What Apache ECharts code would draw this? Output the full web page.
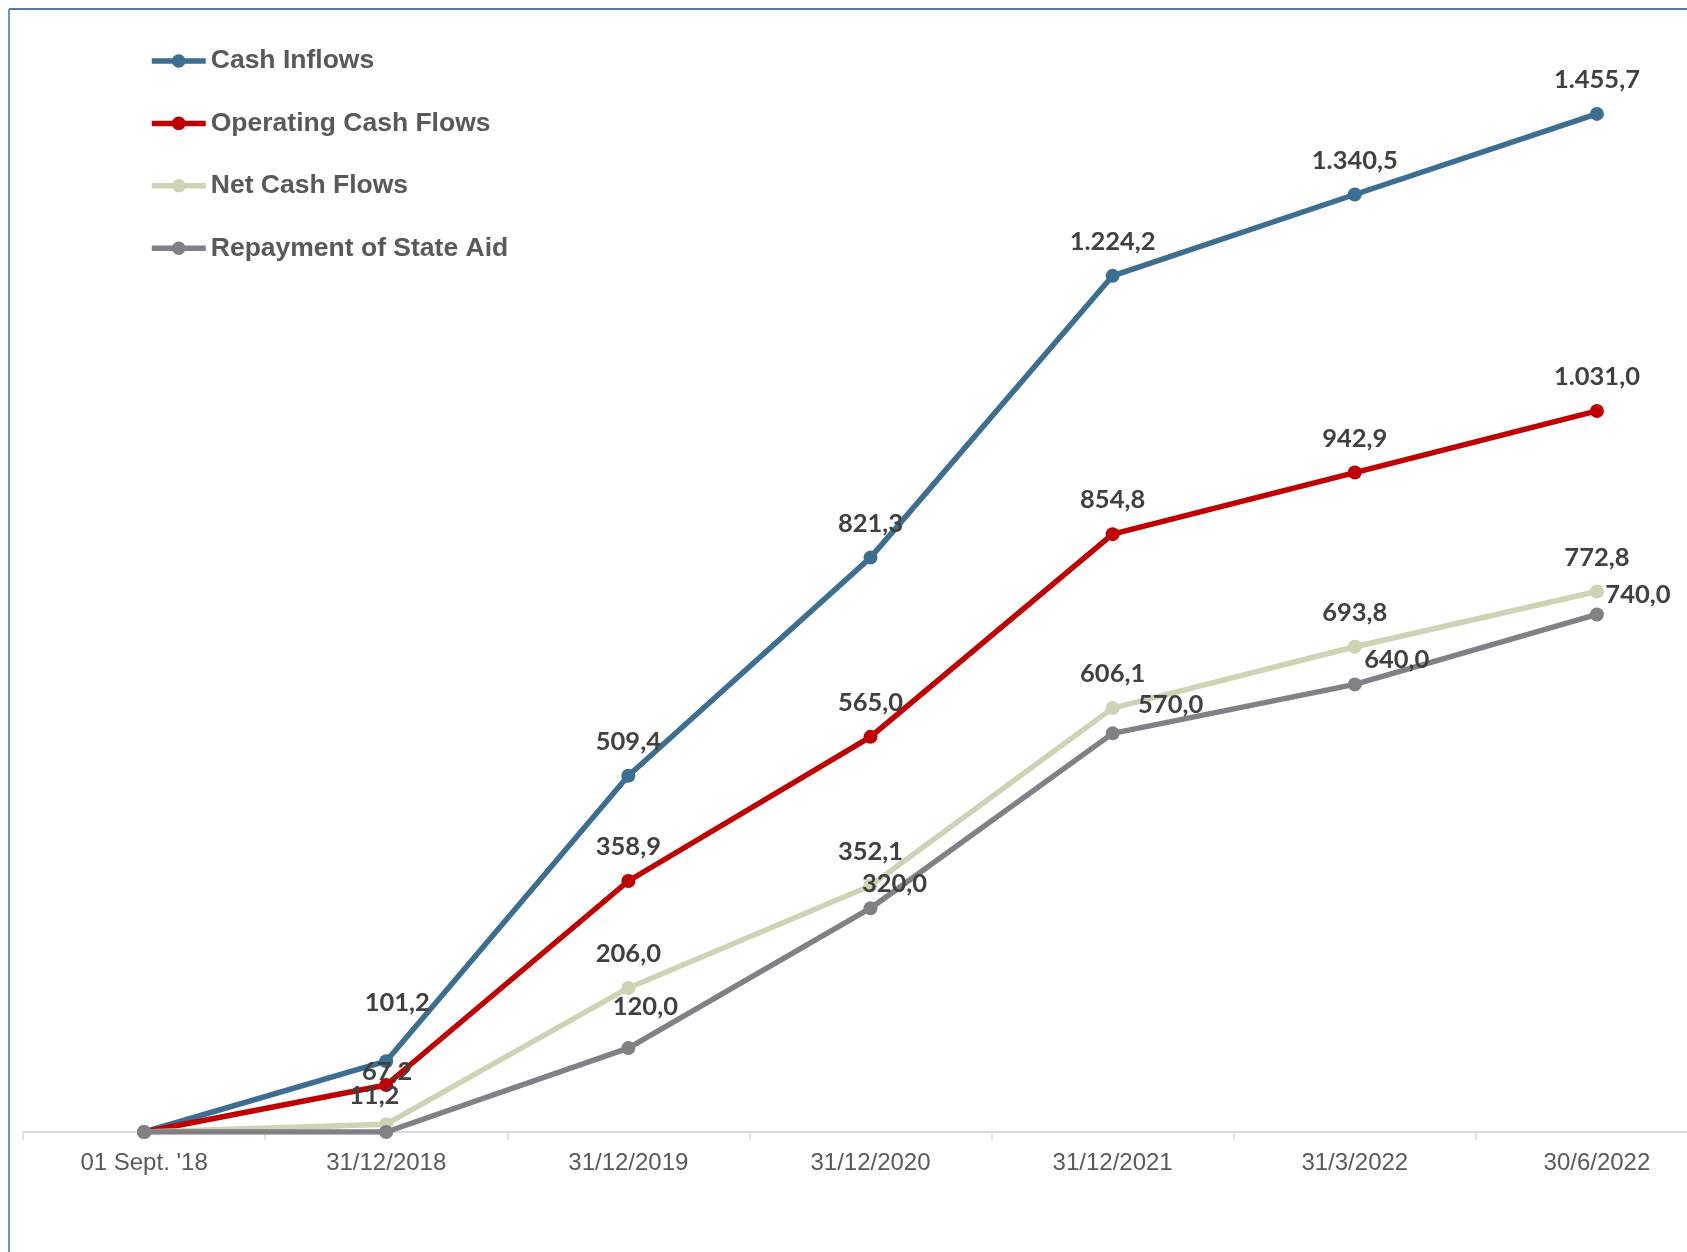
<!DOCTYPE html>
<html>
<head>
<meta charset="utf-8">
<title>Cash Flows</title>
<script src="https://cdn.jsdelivr.net/npm/echarts@6/dist/echarts.min.js"></script>
<style>
  html, body { margin: 0; padding: 0; background: #ffffff; overflow: hidden; }
  /* the plot runs past the right edge of the page; the canvas is wider than the window */
  #chart { width: 1718px; height: 1252px; }
</style>
</head>
<body>
<div id="chart"></div>
<script>
// Reporting dates on the horizontal axis
const categories = ["01 Sept. '18", "31/12/2018", "31/12/2019", "31/12/2020", "31/12/2021", "31/3/2022", "30/6/2022"];

// Cumulative amounts per series
const cashInflows = [0, 101.2, 509.4, 821.3, 1224.2, 1340.5, 1455.7];
const operatingCashFlows = [0, 67.2, 358.9, 565.0, 854.8, 942.9, 1031.0];
const netCashFlows = [0, 11.2, 206.0, 352.1, 606.1, 693.8, 772.8];
const stateAidRepayment = [0, 0, 120.0, 320.0, 570.0, 640.0, 740.0];

const seriesNames = ['Cash Inflows', 'Operating Cash Flows', 'Net Cash Flows', 'Repayment of State Aid'];
const seriesColors = ['#3b6e91', '#c00000', '#cfd2b5', '#808087'];

// Label placement (dx, dy from the marker centre), per point
const STD = [0, -34];
const labelOffsets = [
  [STD, [11, -58], STD, STD, STD, STD, STD],
  [STD, [1, -13], STD, STD, STD, STD, STD],
  [STD, [-12, -28], STD, STD, STD, STD, STD],
  [STD, STD, [17, -41], [24, -24], [58, -29], [42, -25], [41, -20]]
];

// European number format: 1.455,7
function fmt(v) {
  const parts = v.toFixed(1).split('.');
  const intPart = parts[0].replace(/\B(?=(\d{3})+(?!\d))/g, '.');
  return intPart + ',' + parts[1];
}

function buildSeries(idx, values) {
  return {
    name: seriesNames[idx],
    type: 'line',
    data: values.map((v, i) => ({
      value: v,
      label: { offset: labelOffsets[idx][i] }
    })),
    symbol: 'circle',
    symbolSize: 14,
    showSymbol: true,
    lineStyle: { width: 5.5, color: seriesColors[idx] },
    itemStyle: { color: seriesColors[idx] },
    label: {
      show: true,
      position: 'inside',
      formatter: p => (p.value === 0 ? '' : fmt(p.value)),
      fontFamily: 'Lato',
      fontWeight: 'bold',
      fontSize: 25.5,
      color: '#404040'
    },
    emphasis: { disabled: true },
    animation: false
  };
}

const chart = echarts.init(document.getElementById('chart'), null, { renderer: 'canvas' });

chart.setOption({
  backgroundColor: '#ffffff',
  animation: false,
  graphic: [
    { type: 'line', shape: { x1: 9, y1: 9, x2: 1718, y2: 9 }, style: { stroke: '#4f7ea0', lineWidth: 2 } },
    { type: 'line', shape: { x1: 9, y1: 9, x2: 9, y2: 1252 }, style: { stroke: '#6e97b4', lineWidth: 2 } }
  ],
  legend: {
    orient: 'vertical',
    left: 144,
    top: 42,
    itemWidth: 54,
    itemHeight: 17,
    itemGap: 34.4,
    data: seriesNames,
    lineStyle: { width: 5.5 },
    textStyle: {
      fontFamily: 'Liberation Sans',
      fontWeight: 'bold',
      fontSize: 26.5,
      lineHeight: 28,
      color: '#595959'
    }
  },
  grid: {
    left: 23,
    right: 0,
    top: 13,
    bottom: 120,
    containLabel: false
  },
  xAxis: {
    type: 'category',
    data: categories,
    boundaryGap: true,
    axisLine: { show: true, lineStyle: { color: '#d9d9d9', width: 2 } },
    axisTick: { show: true, length: 8, lineStyle: { color: '#d9d9d9', width: 1.5 } },
    axisLabel: {
      margin: 19,
      fontFamily: 'Liberation Sans',
      fontSize: 24,
      color: '#595959'
    },
    splitLine: { show: false }
  },
  yAxis: {
    type: 'value',
    min: 0,
    max: 1600,
    interval: 200,
    show: false,
    splitLine: { show: false }
  },
  series: [
    buildSeries(0, cashInflows),
    buildSeries(1, operatingCashFlows),
    buildSeries(2, netCashFlows),
    buildSeries(3, stateAidRepayment)
  ]
});
</script>
</body>
</html>
